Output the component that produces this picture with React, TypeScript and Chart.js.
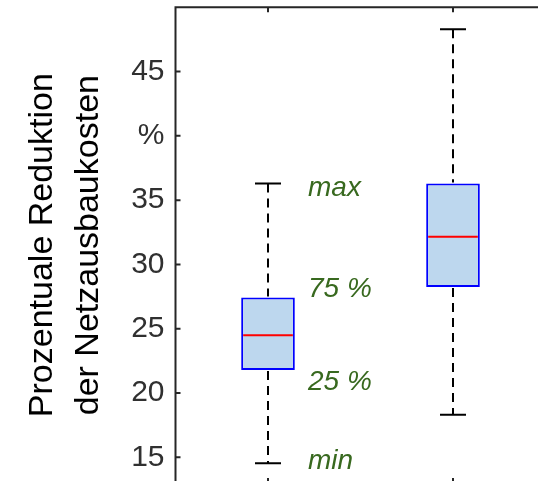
import { useEffect, useRef } from 'react';
import { Chart, registerables } from 'chart.js';

Chart.register(...registerables);

// ---- data ----
const categories = ['Variante 1', 'Variante 2'];
const whiskerMin = [14.53, 18.3];
const quartile1 = [21.78, 28.25];
const medians = [24.5, 32.16];
const quartile3 = [27.43, 36.3];
const whiskerMax = [36.3, 48.3];

const yTickValues = [15, 20, 25, 30, 35, 40, 45];
const yTickLabels = ['15', '20', '25', '30', '35', '%', '45'];

const annotationLabels = ['max', '75 %', '25 %', 'min'];
const annotationValues = [35.3, 27.5, 20.2, 14.1];

const yTitle = ['Prozentuale Reduktion', 'der Netzausbaukosten'];

const FONT = '"Liberation Sans", Arial, Helvetica, sans-serif';
const AXIS_COLOR = '#262626';

const boxPlugin = {
  id: 'boxExtras',
  afterDatasetsDraw(chart: any) {
    const { ctx, chartArea } = chart;
    const x = chart.scales.x;
    const y = chart.scales.y;
    const meta = chart.getDatasetMeta(0);
    ctx.save();
    categories.forEach((_, i) => {
      const cx = x.getPixelForValue(i);
      const bar = meta.data[i];
      const half = bar.width / 2;
      const capHalf = 13;
      // whiskers (dashed)
      ctx.strokeStyle = '#000';
      ctx.lineWidth = 2;
      ctx.setLineDash([9, 6]);
      ctx.beginPath();
      ctx.moveTo(cx, y.getPixelForValue(whiskerMax[i]));
      ctx.lineTo(cx, y.getPixelForValue(quartile3[i]) - 1);
      ctx.moveTo(cx, y.getPixelForValue(quartile1[i]) + 1);
      ctx.lineTo(cx, y.getPixelForValue(whiskerMin[i]));
      ctx.stroke();
      ctx.setLineDash([]);
      // caps
      ctx.beginPath();
      const yMax = y.getPixelForValue(whiskerMax[i]);
      const yMin = y.getPixelForValue(whiskerMin[i]);
      ctx.moveTo(cx - capHalf, yMax);
      ctx.lineTo(cx + capHalf, yMax);
      ctx.moveTo(cx - capHalf, yMin);
      ctx.lineTo(cx + capHalf, yMin);
      ctx.stroke();
      // median
      ctx.strokeStyle = '#ff0000';
      ctx.beginPath();
      const yMed = y.getPixelForValue(medians[i]);
      ctx.moveTo(cx - half + 2, yMed);
      ctx.lineTo(cx + half - 2, yMed);
      ctx.stroke();
    });

    // annotations next to first box
    ctx.fillStyle = '#38691f';
    ctx.font = `italic 28px ${FONT}`;
    ctx.textAlign = 'left';
    ctx.textBaseline = 'alphabetic';
    const ax = x.getPixelForValue(0) + 40;
    annotationLabels.forEach((t, i) => {
      ctx.fillText(t, ax, y.getPixelForValue(annotationValues[i]));
    });

    // spines
    ctx.strokeStyle = AXIS_COLOR;
    ctx.lineWidth = 2;
    ctx.beginPath();
    ctx.rect(chartArea.left, chartArea.top, chartArea.right - chartArea.left, chartArea.bottom - chartArea.top);
    ctx.stroke();
    // inward ticks
    ctx.beginPath();
    yTickValues.forEach((v) => {
      const py = y.getPixelForValue(v);
      ctx.moveTo(chartArea.left, py);
      ctx.lineTo(chartArea.left + 5, py);
    });
    categories.forEach((_, i) => {
      const px = x.getPixelForValue(i);
      ctx.moveTo(px, chartArea.top);
      ctx.lineTo(px, chartArea.top + 5);
      ctx.moveTo(px, chartArea.bottom);
      ctx.lineTo(px, chartArea.bottom - 5);
    });
    ctx.stroke();
    ctx.restore();
  },
};

export default function App() {
  const ref = useRef<HTMLCanvasElement>(null);
  useEffect(() => {
    const chart = new Chart(ref.current as HTMLCanvasElement, {
      type: 'bar',
      data: {
        labels: categories,
        datasets: [
          {
            data: categories.map((_, i) => [quartile1[i], quartile3[i]]) as any,
            backgroundColor: '#bdd7ee',
            borderColor: '#0000ff',
            borderWidth: 2,
            borderSkipped: false,
            barPercentage: 0.29,
            categoryPercentage: 1,
          },
        ],
      },
      options: {
        responsive: false,
        animation: false,
        devicePixelRatio: 1,
        layout: { padding: { top: 7.3, right: 14.5, bottom: 17, left: 0 } },
        plugins: { legend: { display: false }, tooltip: { enabled: false } },
        scales: {
          x: { display: false, offset: true },
          y: {
            min: 13,
            max: 50,
            grid: { display: false, drawTicks: false },
            border: { display: false },
            ticks: {
              stepSize: 5,
              includeBounds: false,
              padding: 11,
              color: '#303030',
              font: { family: FONT, size: 30 },
              callback: (value: any) => {
                const idx = yTickValues.indexOf(Number(value));
                return idx >= 0 ? yTickLabels[idx] : null;
              },
            },
            title: {
              display: true,
              text: yTitle,
              color: '#000',
              font: { family: FONT, size: 34, lineHeight: 1.35 },
              padding: { top: 20, bottom: 0 },
            },
            afterFit: (scale: any) => {
              scale.width = 175.5;
              scale.paddingTop = 0;
              scale.paddingBottom = 0;
            },
          },
        },
      },
      plugins: [boxPlugin],
    });
    return () => chart.destroy();
  }, []);

  return (
    <div
      style={{
        position: 'fixed',
        left: 0,
        top: 0,
        width: 538,
        height: 481,
        overflow: 'hidden',
        background: '#fff',
      }}
    >
      <canvas ref={ref} width={560} height={500} style={{ display: 'block', width: 560, height: 500 }} />
    </div>
  );
}
